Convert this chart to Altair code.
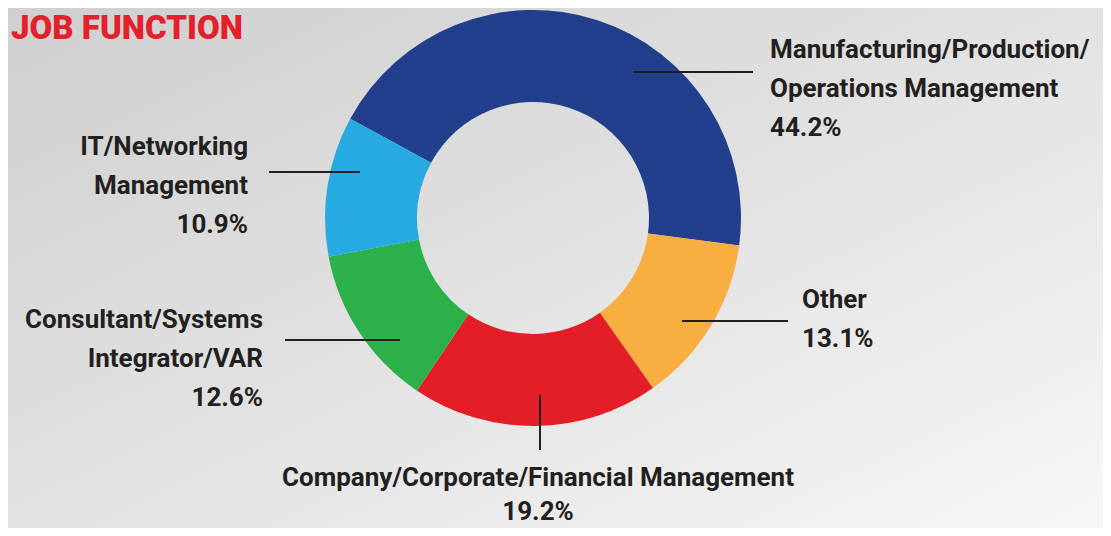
import math
import altair as alt
import pandas as pd

# ---- data ----
categories = [
    "Manufacturing/Production/Operations Management",
    "Other",
    "Company/Corporate/Financial Management",
    "Consultant/Systems Integrator/VAR",
    "IT/Networking Management",
]
values = [44.2, 13.1, 19.2, 12.6, 10.9]
label_lines = [
    ["Manufacturing/Production/", "Operations Management"],
    ["Other"],
    ["Company/Corporate/Financial Management"],
    ["Consultant/Systems", "Integrator/VAR"],
    ["IT/Networking", "Management"],
]
colors = ["#223F8E", "#F9AE42", "#E41E26", "#2BB04A", "#27A9E1"]
title_text = "JOB FUNCTION"

# ---- layout (pixels in chart space) ----
W, H = 1095, 520
CX, CY = 525, 210
R_OUT, R_IN = 208, 116
start = math.radians(298.5)

label_pos = [  # x, baseline y, align, line height
    (762, 50, "left", 39),
    (794, 300, "left", 39),
    (530, 478, "center", 34),
    (255, 320, "right", 39),
    (240, 147, "right", 39),
]
leaders = [  # x, x2, y, y2
    (625, 745, 64, 64),
    (674, 780, 313, 313),
    (532, 532, 387, 442),
    (277, 392, 332, 332),
    (261, 352, 164, 164),
]

TEXT_COLOR = "#231F20"
FONT = "Roboto"

df = pd.DataFrame({
    "cat": categories,
    "value": values,
    "idx": list(range(len(categories))),
})

bg = alt.Chart(pd.DataFrame({"a": [0]})).mark_rect(
    color=alt.Gradient(
        gradient="linear",
        stops=[
            alt.GradientStop(offset=0, color="#cfcfcf"),
            alt.GradientStop(offset=0.45, color="#e0e0e0"),
            alt.GradientStop(offset=1, color="#f7f7f7"),
        ],
        x1=0, y1=0, x2=1, y2=1,
    )
).encode(x=alt.value(0), x2=alt.value(W), y=alt.value(0), y2=alt.value(H))

arc = alt.Chart(df).mark_arc(innerRadius=R_IN, outerRadius=R_OUT).encode(
    theta=alt.Theta("value:Q", stack=True,
                    scale=alt.Scale(range=[start, start + 2 * math.pi])),
    color=alt.Color("cat:N", scale=alt.Scale(domain=categories, range=colors), legend=None),
    order=alt.Order("idx:Q"),
    x=alt.value(CX),
    y=alt.value(CY),
)

lead_df = pd.DataFrame(leaders, columns=["x", "x2", "y", "y2"])
rules = alt.Chart(lead_df).mark_rule(color=TEXT_COLOR, strokeWidth=2).encode(
    x=alt.X("x:Q", scale=None), x2="x2:Q",
    y=alt.Y("y:Q", scale=None), y2="y2:Q",
)

lab_rows = []
for i, (lines, v, (lx, ly, al, lh)) in enumerate(zip(label_lines, values, label_pos)):
    lab_rows.append({"i": i, "text": "\n".join(lines + [f"{v}%"]), "lx": lx, "ly": ly})
lab_df = pd.DataFrame(lab_rows)

text_layers = []
for i, (lx, ly, al, lh) in enumerate(label_pos):
    text_layers.append(
        alt.Chart(lab_df).transform_filter(alt.datum.i == i).mark_text(
            align=al, baseline="alphabetic", lineBreak="\n", lineHeight=lh,
            font=FONT, fontSize=26, fontWeight="bold", color=TEXT_COLOR,
        ).encode(
            x=alt.X("lx:Q", scale=None),
            y=alt.Y("ly:Q", scale=None),
            text="text:N",
        )
    )

title = alt.Chart(pd.DataFrame({"t": [title_text]})).mark_text(
    align="left", baseline="alphabetic", font=FONT, fontSize=33, fontWeight=900,
    color="#E4202A",
).encode(x=alt.value(3), y=alt.value(31), text="t:N")

chart = alt.layer(bg, arc, rules, *text_layers, title).properties(
    width=W, height=H, autosize=alt.AutoSizeParams(type="none"), padding=0,
    background="#d8d8d8",
).configure_view(stroke=None)

chart.save("out.html", embed_options={"renderer": "svg", "actions": False})
